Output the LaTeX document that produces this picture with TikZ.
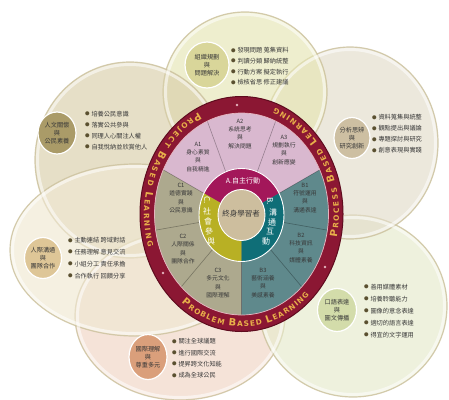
\documentclass[tikz,border=0pt]{standalone}
\usepackage{fontspec}
\usetikzlibrary{decorations.text}
\newfontfamily\cjk{Noto Sans CJK TC}
\newfontfamily\ringfont{DejaVu Sans}
\definecolor{ringred}{HTML}{8B1733}
\definecolor{ringdark}{HTML}{5E0B1E}
\definecolor{ringgold}{HTML}{E8B04A}
\definecolor{ringdotc}{HTML}{E5B4BE}
\definecolor{segA}{HTML}{D9B8CF}
\definecolor{segB}{HTML}{5F898C}
\definecolor{segC}{HTML}{ADA98E}
\definecolor{bandA}{HTML}{A3175A}
\definecolor{bandB}{HTML}{0F6E77}
\definecolor{bandC}{HTML}{B8B024}
\definecolor{corec}{HTML}{CDBE9E}
\definecolor{txt}{HTML}{383838}
\definecolor{bul}{HTML}{5A5030}
\definecolor{pTop}{HTML}{E6E6B4}
\definecolor{pUL}{HTML}{D9CFAA}
\definecolor{pUR}{HTML}{E3DDCA}
\definecolor{pLL}{HTML}{F0E8D2}
\definecolor{pLR}{HTML}{E6EBCC}
\definecolor{pBot}{HTML}{F0D4C4}
\definecolor{rim}{HTML}{CDC3A0}
\definecolor{sTop}{HTML}{D9D69A}
\definecolor{sUL}{HTML}{AA9B68}
\definecolor{sUR}{HTML}{CDBFA2}
\definecolor{sLL}{HTML}{DEC697}
\definecolor{sLR}{HTML}{D3DCAA}
\definecolor{sBot}{HTML}{DA9F7B}
\newcommand\ringbig{\ringfont\bfseries\fontsize{10}{10}\selectfont\color{ringgold}}
\newcommand\ringsmall{\ringfont\bfseries\fontsize{7.4}{7.4}\selectfont\color{ringgold}}
\newcommand\bl{\raisebox{0.6pt}{\color{bul}\fontsize{4.5}{4.5}\selectfont ●}\hspace{1.8pt}}
\tikzset{
  petal/.style={fill=#1, fill opacity=0.65, draw=rim, line width=1.2pt, draw opacity=0.85},
  petalband/.style={draw=white, draw opacity=0.55, line width=3pt},
  smallc/.style={fill=#1, draw=white, line width=1.2pt},
  circtext/.style={align=center, inner sep=0pt, text=txt, font=\cjk\fontsize{6.2}{8}\selectfont},
  listtxt/.style={anchor=west, align=left, inner sep=0pt, text=txt, font=\cjk\fontsize{6.2}{#1}\selectfont},
  seglab/.style={align=center, inner sep=0pt, text=txt, font=\cjk\fontsize{5.8}{8.2}\selectfont},
  bandchar/.style={inner sep=0pt, text=white, font=\cjk\fontsize{8}{8}\selectfont},
  divline/.style={draw=black, draw opacity=0.3, line width=0.6pt},
}
\begin{document}
\begin{tikzpicture}[x=1pt,y=-1pt]
\useasboundingbox (0,0) rectangle (449,399);
\fill[white] (0,0) rectangle (449,399);
% petals
\path[petal=pBot] (180,316) ellipse[x radius=105, y radius=84];
\path[petal=pLR] (353,306) ellipse[x radius=94, y radius=91];
\path[petal=pUR] (350,143) ellipse[x radius=88, y radius=96];
\path[petal=pTop] (245,92) ellipse[x radius=82, y radius=80];
\path[petal=pUL] (130,160) ellipse[x radius=95, y radius=98];
\path[petal=pLL] (135,250) ellipse[x radius=125, y radius=86];
\path[petalband] (180,316) ellipse[x radius=102.5, y radius=81.5];
\path[petalband] (353,306) ellipse[x radius=91.5, y radius=88.5];
\path[petalband] (350,143) ellipse[x radius=85.5, y radius=93.5];
\path[petalband] (245,92) ellipse[x radius=79.5, y radius=77.5];
\path[petalband] (130,160) ellipse[x radius=92.5, y radius=95.5];
\path[petalband] (135,250) ellipse[x radius=122.5, y radius=83.5];
% small circles
\path[smallc=sTop] (207,65) ellipse[x radius=22, y radius=23];
\path[smallc=sUL] (57,133) ellipse[x radius=19, y radius=21];
\path[smallc=sUR] (352,138) ellipse[x radius=18, y radius=20.5];
\path[smallc=sLL] (43,258) ellipse[x radius=18.5, y radius=20.5];
\path[smallc=sLR] (337,310) ellipse[x radius=19.5, y radius=21.5];
\path[smallc=sBot] (148,357) ellipse[x radius=19, y radius=22.5];
\node[circtext] (nTop) at (207,65) {組織規劃\\與\\問題解決};
\node[circtext] (nUL) at (57,133) {人文關懷\\與\\公民素養};
\node[circtext] (nUR) at (352,138) {分析思辨\\與\\研究創新};
\node[circtext] (nLL) at (43,258) {人際溝通\\與\\團隊合作};
\node[circtext] (nLR) at (337,310) {口語表達\\與\\圖文傳播};
\node[circtext] (nBot) at (148,357) {國際理解\\與\\尊重多元};
% lists
\node[listtxt=10.7] (lTop) at (231,66.5) {\bl 發現問題 蒐集資料\\\bl 判讀分類 歸納統整\\\bl 行動方案 擬定執行\\\bl 檢核省思 修正建議};
\node[listtxt=11] (lUL) at (85,130.5) {\bl 培養公民意識\\\bl 落實公共參與\\\bl 同理人心關注人權\\\bl 自我悅納並欣賞他人};
\node[listtxt=11] (lUR) at (372,134) {\bl 資料蒐集與統整\\\bl 觀點提出與議論\\\bl 專題探討與研究\\\bl 創意表現與實踐};
\node[listtxt=11.8] (lLL) at (68,258) {\bl 主動連結 跨域對話\\\bl 任務理解 意見交流\\\bl 小組分工 責任承擔\\\bl 合作執行 回饋分享};
\node[listtxt=12] (lLR) at (364,311) {\bl 善用媒體素材\\\bl 培養聆聽能力\\\bl 圖像的意念表達\\\bl 適切的語言表達\\\bl 得宜的文字運用};
\node[listtxt=11.3] (lBot) at (172,358.5) {\bl 關注全球議題\\\bl 進行國際交流\\\bl 提昇跨文化知能\\\bl 成為全球公民};
% ring
\coordinate (RC) at (241.5,214);
\coordinate (BC) at (241.5,215);
\fill[ringred] (RC) ellipse[x radius=101.5, y radius=117.5];
\draw[ringdark, line width=1pt] (RC) ellipse[x radius=101.5, y radius=117.5];
\begin{scope}
\clip (RC) ellipse[x radius=87, y radius=101];
\fill[segA] (RC) ellipse[x radius=87, y radius=101];
\fill[segC] (BC) -- +(-150:200) -- +(-190:200) -- +(-230:200) -- +(-270:200) -- cycle;
\fill[segB] (BC) -- +(-270:200) -- +(-310:200) -- +(-350:200) -- +(-390:200) -- cycle;
\foreach \a in {-30,-70,-110,-150,-190,-230,-270,-310,-350} \draw[divline] (BC) -- +(\a:200);
\end{scope}
\draw[ringdotc, line width=0.7pt] (RC) ellipse[x radius=87, y radius=101];
\fill[ringdotc] (237,105) circle[radius=1.3];
\fill[ringdotc] (325,267) circle[radius=1.3];
\fill[ringdotc] (163,273) circle[radius=1.3];
% ring texts
\path[decorate, decoration={text along path, text align={fit to path}, text={|\ringbig|P|\ringsmall|ROJECT |\ringbig|B|\ringsmall|ASED |\ringbig|L|\ringsmall|EARNING}}]
  ([shift={(-116:97.5 and 112.8)}]RC) arc[start angle=-116, end angle=-197, x radius=97.5, y radius=112.8];
\path[decorate, decoration={text along path, text align={fit to path}, text={|\ringbig|P|\ringsmall|ROCESS |\ringbig|B|\ringsmall|ASED |\ringbig|L|\ringsmall|EARNING}}]
  ([shift={(12:97.5 and 112.8)}]RC) arc[start angle=12, end angle=-70, x radius=97.5, y radius=112.8];
\path[decorate, decoration={text along path, text align={fit to path}, text={|\ringbig|P|\ringsmall|ROBLEM |\ringbig|B|\ringsmall|ASED |\ringbig|L|\ringsmall|EARNING}}]
  ([shift={(-232:97.5 and 112.8)}]RC) arc[start angle=-232, end angle=-314, x radius=97.5, y radius=112.8];
% segment labels
\node[seglab] (A1) at (198,157) {A1\\身心素質\\與\\自我精進};
\node[seglab] (A2) at (240,134) {A2\\系統思考\\與\\解決問題};
\node[seglab] (A3) at (284,150) {A3\\規劃執行\\與\\創新應變};
\node[seglab] (C1) at (181,198) {C1\\道德實踐\\與\\公民意識};
\node[seglab] (C2) at (183,249) {C2\\人際關係\\與\\團隊合作};
\node[seglab] (C3) at (218,283) {C3\\多元文化\\與\\國際理解};
\node[seglab] (B1) at (305,198) {B1\\符號運用\\與\\溝通表達};
\node[seglab] (B2) at (301,248) {B2\\科技資訊\\與\\媒體素養};
\node[seglab] (B3) at (263,283) {B3\\藝術涵養\\與\\美感素養};
% inner band
\begin{scope}
\clip (BC) ellipse[x radius=42.5, y radius=46.5];
\fill[bandA] (BC) -- +(-30:100) -- +(-70:100) -- +(-110:100) -- +(-150:100) -- cycle;
\fill[bandC] (BC) -- +(-150:100) -- +(-190:100) -- +(-230:100) -- +(-270:100) -- cycle;
\fill[bandB] (BC) -- +(-270:100) -- +(-310:100) -- +(-350:100) -- +(-390:100) -- cycle;
\end{scope}
\draw[white, line width=0.9pt] (BC) ellipse[x radius=42.5, y radius=46.5];
\fill[corec] (BC) ellipse[x radius=23.5, y radius=25.5];
\draw[white, line width=0.9pt] (BC) ellipse[x radius=23.5, y radius=25.5];
\node[inner sep=0pt, text=txt, font=\cjk\fontsize{7.5}{7.5}\selectfont] (core) at (241,214) {終身學習者};
\node[inner sep=0pt, text=white, font=\cjk\fontsize{7}{7}\selectfont] (bandAt) at (243,181) {A.自主行動};
\node[bandchar, rotate=-90] (c0) at (207,200) {C.};
\node[bandchar] (c1) at (207,211) {社};
\node[bandchar] (c2) at (208,221) {會};
\node[bandchar] (c3) at (209,231) {參};
\node[bandchar] (c4) at (211,241) {與};
\node[bandchar, rotate=-90] (b0) at (270,201) {B.};
\node[bandchar] (b1) at (273,212) {溝};
\node[bandchar] (b2) at (272,222) {通};
\node[bandchar] (b3) at (270,232) {互};
\node[bandchar] (b4) at (266,242) {動};
\end{tikzpicture}
\end{document}
